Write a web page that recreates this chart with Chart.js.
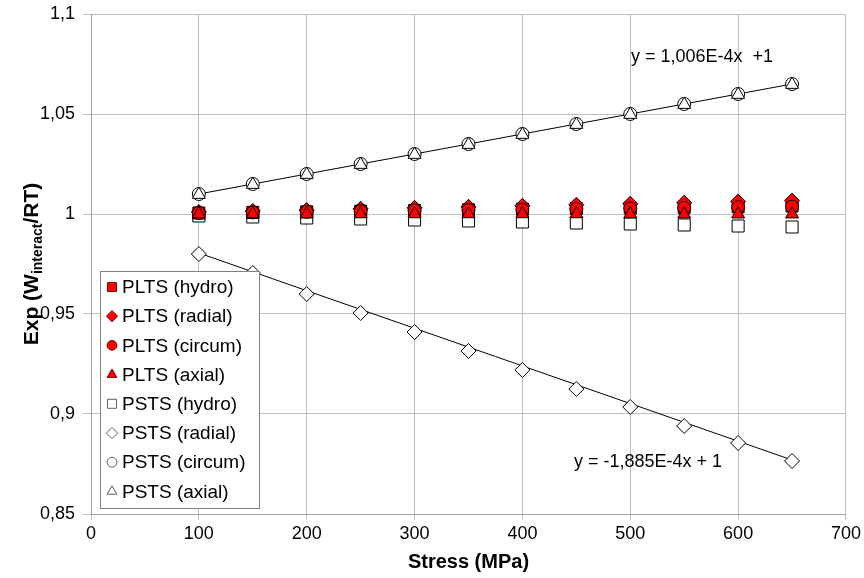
<!DOCTYPE html>
<html>
<head>
<meta charset="utf-8">
<script src="https://cdn.jsdelivr.net/npm/chart.js@4"></script>
<style>
    html, body { margin: 0; padding: 0; background: #fff; }
    #wrap { width: 864px; height: 578px; }
</style>
</head>
<body>
<div id="wrap"><canvas id="stressChart" width="864" height="578"></canvas></div>
<script>
// Stress values (MPa), x axis
const stress = [100, 150, 200, 250, 300, 350, 400, 450, 500, 550, 600, 650];

// Series
const pltsHydro = [1.0005, 1.0008, 1.0011, 1.0014, 1.0017, 1.0021, 1.0024, 1.0027, 1.0030, 1.0033, 1.0036, 1.0040];
const pltsRadial = [1.0010, 1.0015, 1.0020, 1.0026, 1.0031, 1.0036, 1.0041, 1.0046, 1.0051, 1.0056, 1.0062, 1.0067];
const pltsCircum = [1.0005, 1.0008, 1.0011, 1.0014, 1.0017, 1.0020, 1.0022, 1.0025, 1.0028, 1.0031, 1.0034, 1.0037];
const pltsAxial = [1.0000, 1.0000, 1.0000, 1.0000, 1.0000, 1.0000, 1.0000, 1.0000, 1.0000, 0.9999, 0.9999, 0.9999];
const pstsHydro = [0.9990, 0.9985, 0.9980, 0.9975, 0.9970, 0.9965, 0.9960, 0.9955, 0.9950, 0.9945, 0.9940, 0.9935];
const pstsRadial = [0.9800, 0.9705, 0.9600, 0.9505, 0.9410, 0.9315, 0.9220, 0.9125, 0.9035, 0.8940, 0.8855, 0.8765];
const pstsCircum = [1.0100, 1.0150, 1.0200, 1.0250, 1.0300, 1.0350, 1.0400, 1.0450, 1.0500, 1.0550, 1.0600, 1.0650];
const pstsAxial = [1.0097, 1.0147, 1.0197, 1.0247, 1.0297, 1.0347, 1.0397, 1.0447, 1.0497, 1.0547, 1.0597, 1.0647];

// Trend lines (end points) and their equations
const trendX = [100, 650];
const trendUp = [1.0100, 1.0650];
const trendDown = [0.9805, 0.8770];
const eqUp = 'y = 1,006E-4x  +1';
const eqDown = 'y = -1,885E-4x + 1';

// Axis ticks
const xTicks = { min: 0, max: 700, step: 100 };
const yTicks = { min: 0.85, max: 1.1, step: 0.05 };

const FONT = "'Liberation Sans', Arial, sans-serif";

// Helper to zip x and y into points
function toPoints(xs, ys) {
    return xs.map((x, i) => ({ x: x, y: ys[i] }));
}

// Marker settings for each series (z: higher is drawn on top)
const series = [
    { label: 'PLTS (hydro)', data: pltsHydro, style: 'rect', r: 8.5, fill: '#ff0000', lgLine: '#800000', z: 2 },
    { label: 'PLTS (radial)', data: pltsRadial, style: 'rectRot', r: 7.5, fill: '#ff0000', lgLine: '#800000', z: 3 },
    { label: 'PLTS (circum)', data: pltsCircum, style: 'circle', r: 6.5, fill: '#ff0000', lgLine: '#800000', z: 4 },
    { label: 'PLTS (axial)', data: pltsAxial, style: 'triangle', r: 7.5, fill: '#ff0000', lgLine: '#800000', z: 5 },
    { label: 'PSTS (hydro)', data: pstsHydro, style: 'rect', r: 8.5, fill: '#ffffff', lgLine: '#606060', z: 1 },
    { label: 'PSTS (radial)', data: pstsRadial, style: 'rectRot', r: 7.5, fill: '#ffffff', lgLine: '#606060', z: 6 },
    { label: 'PSTS (circum)', data: pstsCircum, style: 'circle', r: 6.5, fill: '#ffffff', lgLine: '#606060', z: 7 },
    { label: 'PSTS (axial)', data: pstsAxial, style: 'triangle', r: 7.5, fill: '#ffffff', lgLine: '#606060', z: 8 },
];

const datasets = series.map(s => ({
    label: s.label,
    data: toPoints(stress, s.data),
    pointStyle: s.style,
    pointRadius: s.r,
    pointBackgroundColor: s.fill,
    pointBorderColor: '#000',
    pointBorderWidth: 1,
    showLine: false,
    order: 10 - s.z
}));

// Trend lines go under the markers
datasets.push({
    label: 'trend up',
    data: toPoints(trendX, trendUp),
    showLine: true,
    pointRadius: 0,
    borderColor: '#000',
    borderWidth: 1,
    order: 20
});
datasets.push({
    label: 'trend down',
    data: toPoints(trendX, trendDown),
    showLine: true,
    pointRadius: 0,
    borderColor: '#000',
    borderWidth: 1,
    order: 21
});

// Draw a marker with the library helper
function marker(ctx, style, r, x, y, fill, line) {
    ctx.save();
    ctx.fillStyle = fill;
    ctx.strokeStyle = line;
    ctx.lineWidth = 1;
    Chart.helpers.drawPoint(ctx, { pointStyle: style, radius: r, rotation: 0, borderWidth: 1 }, x, y);
    ctx.restore();
}

// Axis titles, equations and the boxed legend
const extras = {
    id: 'extras',
    afterDraw(chart) {
        const ctx = chart.ctx;
        const area = chart.chartArea;

        ctx.save();
        ctx.fillStyle = '#000';

        // x axis title
        ctx.font = 'bold 20px ' + FONT;
        ctx.textAlign = 'center';
        ctx.textBaseline = 'middle';
        ctx.fillText('Stress (MPa)', (area.left + area.right) / 2, 562);

        // y axis title with subscript
        ctx.save();
        ctx.translate(32, 264);
        ctx.rotate(-Math.PI / 2);
        const big = 'bold 21px ' + FONT;
        const small = 'bold 14px ' + FONT;
        const parts = [['Exp (W', big, 0], ['interact', small, 6], ['/RT)', big, 0]];
        let total = 0;
        parts.forEach(p => { ctx.font = p[1]; total += ctx.measureText(p[0]).width; });
        let px = -total / 2;
        ctx.textAlign = 'left';
        parts.forEach(p => {
            ctx.font = p[1];
            ctx.fillText(p[0], px, p[2]);
            px += ctx.measureText(p[0]).width;
        });
        ctx.restore();

        // trend equations
        ctx.font = '18px ' + FONT;
        ctx.textAlign = 'left';
        ctx.fillText(eqUp, 631, 57);
        ctx.fillText(eqDown, 574, 462);

        // legend box
        const box = { x: 100.5, y: 271.5, w: 159, h: 237 };
        ctx.fillStyle = '#fff';
        ctx.fillRect(box.x, box.y, box.w, box.h);
        ctx.strokeStyle = '#808080';
        ctx.lineWidth = 1;
        ctx.strokeRect(box.x, box.y, box.w, box.h);

        ctx.font = '19px ' + FONT;
        series.forEach((s, i) => {
            const cy = 287 + i * 29.2;
            marker(ctx, s.style, s.r * 0.75, 112, cy, s.fill, s.lgLine);
            ctx.fillStyle = '#000';
            ctx.textAlign = 'left';
            ctx.textBaseline = 'middle';
            ctx.fillText(s.label, 122, cy + 1);
        });
        ctx.restore();
    }
};

const ctx = document.getElementById('stressChart').getContext('2d');
const stressChart = new Chart(ctx, {
    type: 'scatter',
    data: { datasets: datasets },
    options: {
        responsive: false,
        animation: false,
        layout: { padding: { top: 14, right: 18, left: 0, bottom: 0 } },
        plugins: {
            legend: { display: false },
            tooltip: { enabled: false }
        },
        scales: {
            x: {
                type: 'linear',
                min: xTicks.min,
                max: xTicks.max,
                afterFit: scale => { scale.height = 64; },
                ticks: {
                    stepSize: xTicks.step,
                    color: '#000',
                    font: { family: FONT, size: 18 },
                    padding: 3,
                    maxRotation: 0
                },
                grid: { color: '#c0c0c0', tickLength: 6, lineWidth: 1 },
                border: { color: '#a0a0a0' }
            },
            y: {
                type: 'linear',
                min: yTicks.min,
                max: yTicks.max,
                afterFit: scale => {
                    scale.width = 91;
                    scale.paddingTop = 0;
                    scale.paddingBottom = 0;
                },
                ticks: {
                    stepSize: yTicks.step,
                    color: '#000',
                    font: { family: FONT, size: 18 },
                    padding: 8,
                    // comma decimals
                    callback: v => String(Number(v.toFixed(2))).replace('.', ',')
                },
                grid: { color: '#c0c0c0', tickLength: 8, lineWidth: 1 },
                border: { color: '#a0a0a0' }
            }
        }
    },
    plugins: [extras]
});
</script>
</body>
</html>
